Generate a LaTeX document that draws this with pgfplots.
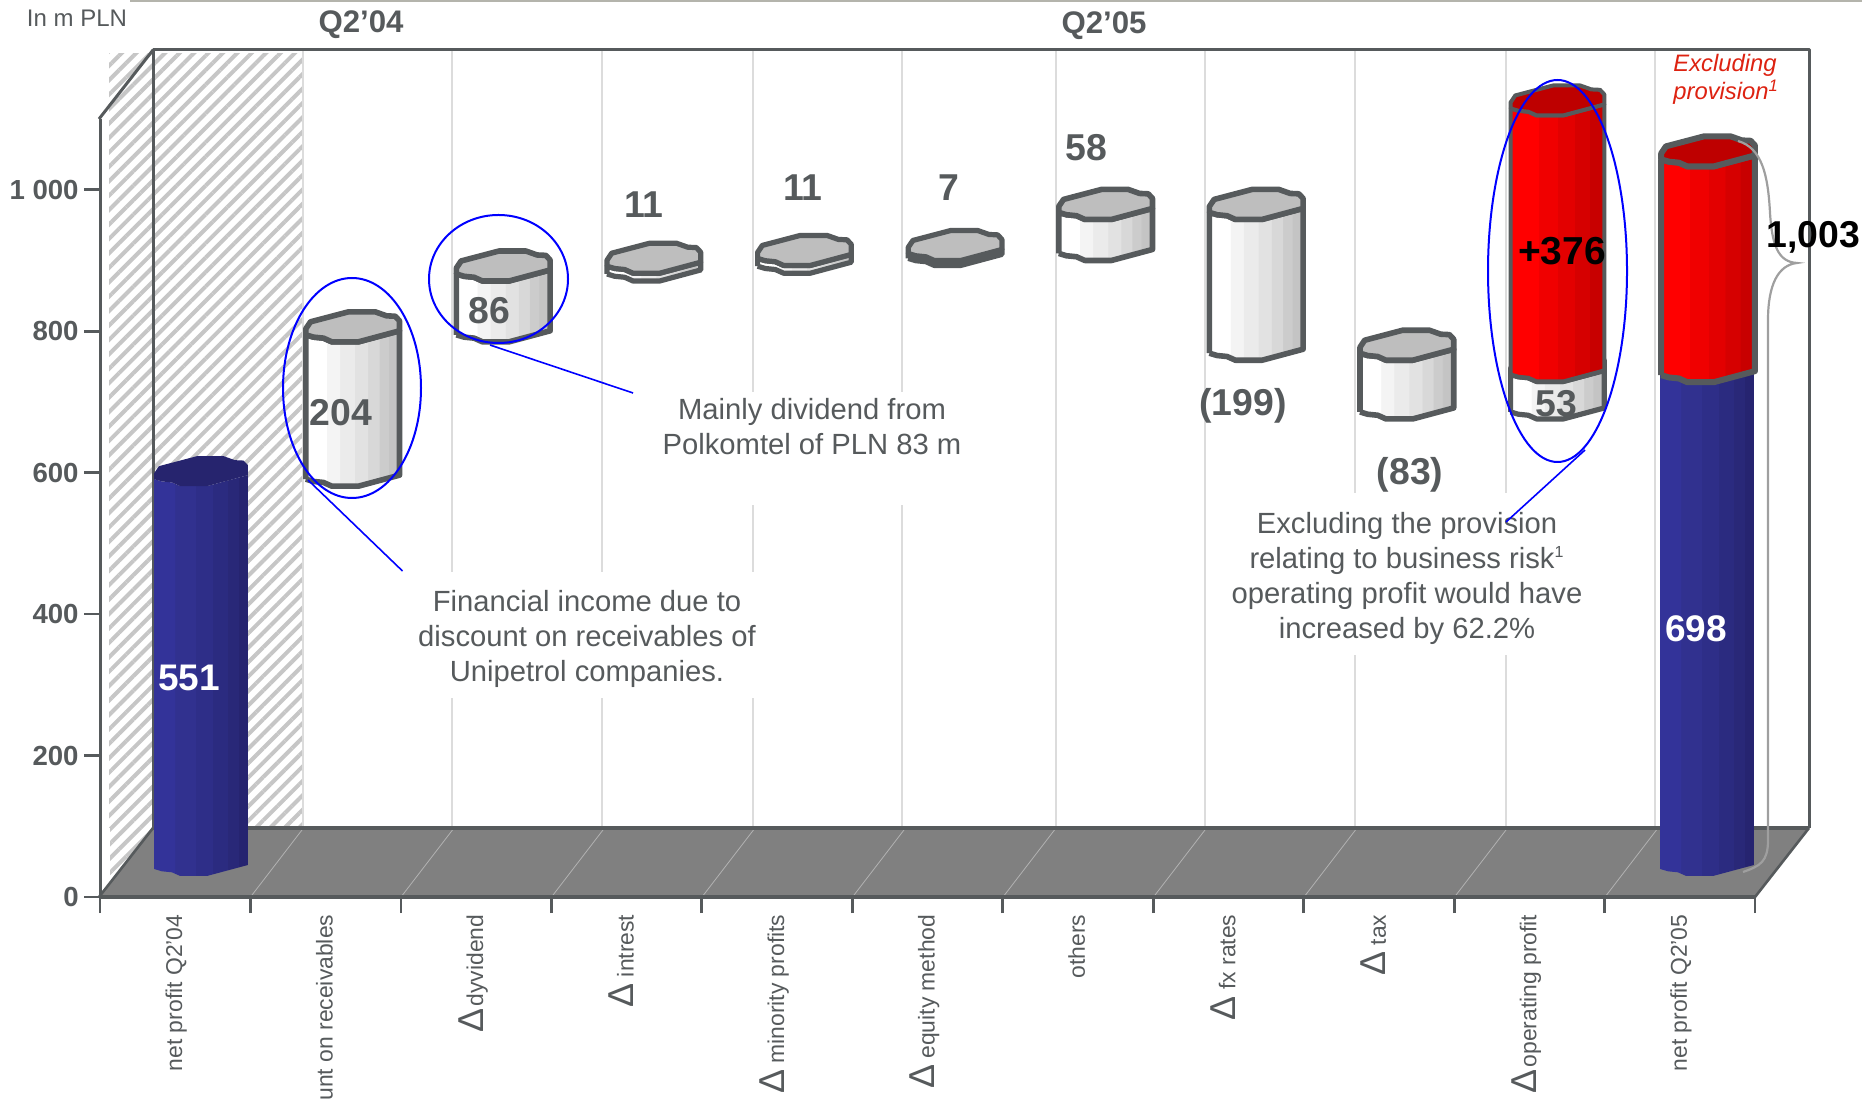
\documentclass[border=0pt]{standalone}
\usepackage{fontspec}
\setmainfont{Liberation Sans}
\usepackage{pgfplots}
\usepackage{pgfplotstable}
\pgfplotsset{compat=1.18}
\usetikzlibrary{patterns.meta}
\definecolor{edge}{HTML}{565A5C}
\definecolor{txt}{HTML}{565A5C}
\definecolor{floorc}{HTML}{808080}
\definecolor{gridc}{HTML}{DCDCDC}
\definecolor{hatch}{HTML}{C6C6C6}
\definecolor{wa}{HTML}{FFFFFF}\definecolor{wb}{HTML}{F4F4F4}\definecolor{wc}{HTML}{EBEBEB}
\definecolor{wd}{HTML}{E2E2E2}\definecolor{we}{HTML}{D8D8D8}\definecolor{wf}{HTML}{CCCCCC}\definecolor{wg}{HTML}{C4C4C4}
\definecolor{ba}{HTML}{333399}\definecolor{bb}{HTML}{31318F}\definecolor{bc}{HTML}{2E2E88}
\definecolor{bd}{HTML}{2B2B80}\definecolor{be}{HTML}{292878}\definecolor{bf}{HTML}{262470}
\definecolor{ra}{HTML}{FF0000}\definecolor{rb}{HTML}{F00000}\definecolor{rc}{HTML}{E30000}
\definecolor{rd}{HTML}{D60000}\definecolor{re}{HTML}{C80000}
\definecolor{topw}{HTML}{BEBEBE}\definecolor{topb}{HTML}{26246E}\definecolor{topr}{HTML}{BE0000}
\pgfdeclarehorizontalshading{cylwhite}{100bp}{color(0bp)=(wa);color(36bp)=(wa);color(36.1bp)=(wb);color(43bp)=(wb);color(43.1bp)=(wc);color(51bp)=(wc);color(51.1bp)=(wd);color(58bp)=(wd);color(58.1bp)=(we);color(64bp)=(we);color(64.1bp)=(wf);color(69bp)=(wf);color(69.1bp)=(wg);color(100bp)=(wg)}
\pgfdeclarehorizontalshading{cylblue}{100bp}{color(0bp)=(ba);color(36bp)=(ba);color(36.1bp)=(bb);color(47bp)=(bb);color(47.1bp)=(bc);color(56bp)=(bc);color(56.1bp)=(bd);color(64bp)=(bd);color(64.1bp)=(be);color(70bp)=(be);color(70.1bp)=(bf);color(100bp)=(bf)}
\pgfdeclarehorizontalshading{cylred}{100bp}{color(0bp)=(ra);color(40bp)=(ra);color(40.1bp)=(rb);color(50bp)=(rb);color(50.1bp)=(rc);color(59bp)=(rc);color(59.1bp)=(rd);color(67bp)=(rd);color(67.1bp)=(re);color(100bp)=(re)}
% outline of a cylinder, in pixels, round its centre
\pgfplotstableread{
dx dy top
-46.7 7 0
-39 4.7 0
-29 3.7 0
-20.7 0 0
6 0 0
47 11 0
47 11 1
6 0 1
-20.7 0 1
-29 3.7 1
-39 4.7 1
-46.7 7 1
-46.7 7 0
}\cylside
\pgfplotstableread{
dx dy
-46.7 7
-46.7 13
-42 20
-4 30
22.7 30
34 26
42.7 25.6
47 21
47 11
6 0
-20.7 0
-29 3.7
-39 4.7
-46.7 7
}\cyltop
% #1 category, #2 low, #3 high, #4 shading, #5 top colour, #6 edge options
\newcommand\cyl[6]{%
  \addplot[shading=#4,shading angle=0,line join=round,#6]
    table[x expr=#1+(\thisrow{dx}+1.9)/150.6,
          y expr=\thisrow{top}*#3+(1-\thisrow{top})*#2+\thisrow{dy}/0.7075]{\cylside};
  \addplot[fill=#5,line join=round,#6]
    table[x expr=#1+(\thisrow{dx}+1.9)/150.6,
          y expr=#3+\thisrow{dy}/0.7075]{\cyltop};
}
\newcommand\D{{\fontsize{18}{18}\selectfont Δ}}
\newcommand\fs[1]{\fontsize{#1}{#1}\selectfont}
\begin{document}
\begin{tikzpicture}
\path[use as bounding box] (0,0) rectangle (931pt,549pt);
\clip (0,0) rectangle (931pt,549pt);
% ---- walls, in reference pixels
\begin{scope}[x=0.5pt,y=-0.5pt,yshift=549pt]
  \fill[pattern={Lines[angle=45,distance=5.1pt,line width=2pt]},pattern color=hatch] (109,54) rectangle (303,888);
  \foreach \x in {303,452,602,753,902,1056,1205,1355,1506,1655}
    \draw[gridc,line width=0.8pt] (\x,50) -- (\x,828);
  \fill[white] (635,392) rectangle (985,505);
  \fill[white] (404,572) rectangle (772,698);
  \fill[white] (1212,493) rectangle (1597,655);
  \fill[white] (99,828) -- (153,828) -- (99,897) -- cycle;
  \fill[pattern={Lines[angle=45,distance=5.1pt,line width=2pt]},pattern color=hatch] (110,828) -- (153,828) -- (110,884) -- cycle;
  \fill[floorc] (100,897) -- (1755,897) -- (1809,828) -- (153,828) -- cycle;
  \foreach \i in {1,...,10}
    \draw[gray!60!white,line width=0.4pt] ({100+150.5*\i},897) -- ({153+150.5*\i},828);
  \draw[edge,line width=1.5pt,line join=round] (153,828) -- (153,50) -- (1809,50) -- (1809,828);
  \draw[edge,line width=1.8pt] (153,828) -- (1809,828);
  \draw[edge,line width=1.3pt,line join=round] (99,897) -- (153,828);
  \draw[edge,line width=1.3pt,line join=round] (1755,897) -- (1809,828);
  \draw[edge,line width=1.5pt,line join=round] (99,119) -- (153,50);
  \draw[color={rgb,255:red,180;green,180;blue,172},line width=1.2pt] (130,0.5) -- (1862,0.5);
\end{scope}
% ---- front frame with the ticks
\begin{axis}[
  at={(50pt,100.5pt)},anchor=south west,
  scale only axis,width=827.5pt,height=389pt,
  xmin=0,xmax=11,ymin=0,ymax=1100,
  axis x line*=bottom,axis y line*=left,
  axis line style={edge,line width=1.5pt,-},
  x axis line style={line width=1.8pt},
  xtick={0,...,11},xticklabels={},
  ytick={0,200,400,600,800,1000},
  yticklabels={0,200,400,600,800,1 000},
  tick align=outside,major tick length=8pt,
  tick style={edge,line width=1.4pt},
  yticklabel style={font=\bfseries\fs{13.8},text=txt,inner sep=2.5pt},
  extra x ticks={0.5,1.5,...,10.5},
  extra x tick labels={net profit Q2'04,\D\ discount on receivables,\D\kern1pt dyvidend,\D\ intrest,\D\ minority profits,\D\ equity method,others,\D\ fx rates,\D\ tax,\D\kern1pt operating profit,net profit Q2'05},
  extra x tick style={major tick length=0pt,tick style={draw=none},
    xticklabel style={rotate=90,anchor=east,font=\fs{11.45},text=txt,xshift=-5.3pt,
      text height=9pt,text depth=2pt}},
]
\addplot[draw=none,forget plot] coordinates {(0,0)};
\end{axis}
% ---- the bars: x is the category, y the value
\begin{axis}[
  at={(0pt,0pt)},anchor=south west,
  scale only axis,width=931pt,height=549pt,
  xmin=-1.3280,xmax=11.0359,ymin=-313.78,ymax=1238.16,
  axis lines=none,clip=false,
]
\cyl{0}{0}{551}{cylblue}{topb}{draw=none,xshift=-0.5pt}
\cyl{1}{551}{755}{cylwhite}{topw}{draw=edge,line width=2.8pt}
\cyl{2}{755}{841}{cylwhite}{topw}{draw=edge,line width=2.8pt}
\cyl{3}{841}{852}{cylwhite}{topw}{draw=edge,line width=2.6pt}
\cyl{4}{852}{863}{cylwhite}{topw}{draw=edge,line width=2.6pt}
\cyl{5}{863}{870}{cylwhite}{topw}{draw=edge,line width=2.6pt}
\cyl{6}{870}{928}{cylwhite}{topw}{draw=edge,line width=2.8pt}
\cyl{7}{729}{928}{cylwhite}{topw}{draw=edge,line width=2.8pt}
\cyl{8}{646}{729}{cylwhite}{topw}{draw=edge,line width=2.8pt}
\cyl{9}{646}{699}{cylwhite}{topw}{draw=edge,line width=2.6pt}
\cyl{9}{699}{1075}{cylred}{topr}{draw=edge,line width=2pt}
\cyl{10}{0}{698}{cylblue}{topb}{draw=none,xshift=-0.5pt}
\cyl{10}{698}{1003}{cylred}{topr}{draw=edge,line width=3pt}
\end{axis}
% ---- annotations, in reference pixels
\begin{scope}[x=0.5pt,y=-0.5pt,yshift=549pt]
  \node[text=txt,font=\fs{12}] at (77,18) {In m PLN};
  \node[text=txt,font=\bfseries\fs{15.6}] at (361,24.5) {Q2’04};
  \node[text=txt,font=\bfseries\fs{15.6}] at (1104,25.5) {Q2’05};
  \node[text={rgb,255:red,221;green,34;blue,17},font=\itshape\fs{11.9},align=left,anchor=north west,inner sep=0pt]
    at (1673,53.5) {Excluding\\[2.4pt]provision\smash{\textsuperscript{1}}};
  % value labels
  \foreach \x/\y/\t in {341/413/204,489/311/86,644/205/11,803/188/11,949/188/7,1086/148/58,1243/406/(199),1410/475/(83),1556/404/53}
    \node[text=txt,font=\bfseries\fs{18.7}] at (\x,\y) {\t};
  \node[white,font=\bfseries\fs{18.5}] at (189,678) {551};
  \node[white,font=\bfseries\fs{18.5}] at (1696,629) {698};
  % brace
  \draw[gray!75,line width=1.1pt] (1738,141) .. controls (1762,148) and (1768,175) .. (1770,213)
     .. controls (1772,245) and (1778,262) .. (1797,263)
     .. controls (1778,265) and (1768,285) .. (1768,320)
     -- (1768,840) .. controls (1768,862) and (1760,866) .. (1743,872);
  \node[font=\bfseries\fs{18.7}] at (1813,237.5) {1,003};
  \node[font=\bfseries\fs{19.5}] at (1562,251) {+376};
  % call-outs
  \node[text=txt,font=\fs{14.6},align=center] at (812,426.5) {Mainly dividend from\\[2.9pt]Polkomtel of PLN 83 m};
  \node[text=txt,font=\fs{14.6},align=center] at (587,638.5) {Financial income due to\\[2.9pt]discount on receivables of\\[2.9pt]Unipetrol companies.};
  \node[text=txt,font=\fs{14.6},align=center] at (1407,578) {Excluding the provision\\[2.9pt]relating to business risk\smash{\textsuperscript{\fs{8}1}}\\[2.9pt]operating profit would have\\[2.9pt]increased by 62.2\%};
  % circles
  \draw[blue,line width=1pt] (352,388) ellipse [x radius=69,y radius=-110];
  \draw[blue,line width=1pt] (498.5,279) ellipse [x radius=69.5,y radius=-64];
  \draw[blue,line width=1pt] (1557.5,271) ellipse [x radius=69.5,y radius=-191];
  \draw[blue,line width=0.8pt] (308,480) -- (402.5,571);
  \draw[blue,line width=0.8pt] (490,345) -- (633,393);
  \draw[blue,line width=0.8pt] (1585,450) -- (1506,522);
\end{scope}
\end{tikzpicture}
\end{document}
